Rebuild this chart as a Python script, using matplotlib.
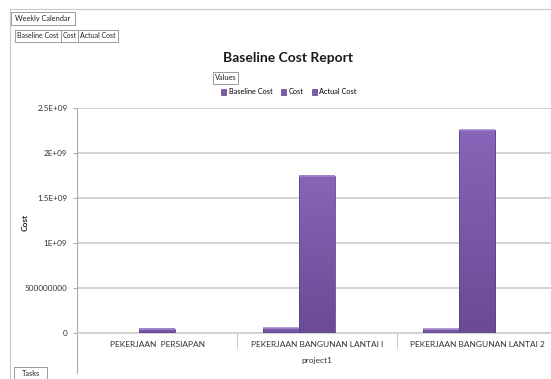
import numpy as np
import matplotlib.pyplot as plt
from matplotlib.patches import Rectangle
from matplotlib.lines import Line2D
from matplotlib.colors import LinearSegmentedColormap

plt.rcParams['font.family'] = ['Lato', 'DejaVu Sans']

# dados
tarefas = ['PEKERJAAN  PERSIAPAN', 'PEKERJAAN BANGUNAN LANTAI I', 'PEKERJAAN BANGUNAN LANTAI 2']
series = ['Baseline Cost', 'Cost', 'Actual Cost']
baseline_cost = [0, 5.5e7, 4.0e7]
cost = [5.0e7, 1.745e9, 2.255e9]
actual_cost = [0, 0, 0]
yticks = [0, 5e8, 1e9, 1.5e9, 2e9, 2.5e9]
ytick_labels = ['0', '500000000', '1E+09', '1.5E+09', '2E+09', '2.5E+09']

W, H = 551, 379
fig = plt.figure(figsize=(W / 100, H / 100), dpi=100)

def fx(x):
    return x / W

def fy(y):
    return 1 - y / H

# borda da página
fig.add_artist(Line2D([fx(10), 1], [fy(9), fy(9)], color='#c8c8c8', lw=0.8))
fig.add_artist(Line2D([fx(10), fx(10)], [fy(9), 0], color='#c8c8c8', lw=0.8))

# caixinhas de campo (x0, x1, y0, y1 em pixels)
def caixa(texto, x0, x1, y0, y1, tamanho=5.3):
    fig.add_artist(Rectangle((fx(x0), fy(y1)), fx(x1) - fx(x0), fy(y0) - fy(y1),
                             facecolor='white', edgecolor='#9a9a9a', lw=0.7))
    fig.text(fx((x0 + x1) / 2), fy((y0 + y1) / 2), texto, fontsize=tamanho,
             ha='center', va='center', color='#222222')

caixa('Weekly Calendar', 11, 75, 12, 25)
caixa('Baseline Cost', 15, 61, 30, 42, 5.0)
caixa('Cost', 61, 78, 30, 42, 5.0)
caixa('Actual Cost', 78, 118, 30, 42, 5.0)
caixa('Values', 213, 238, 72, 84)
caixa('Tasks', 14, 47, 367, 381)

fig.text(fx(288), fy(58), 'Baseline Cost Report', fontsize=10, fontweight='bold',
         ha='center', va='center', color='#1a1a1a')

ax = fig.add_axes([fx(77), fy(333), 480 / W, (333 - 108) / H])

cor = '#7a5aa6'
borda = '#5e4286'
degrade = LinearSegmentedColormap.from_list('roxo', ['#8865b8', '#6a4b94'])
largura = 0.225
x = [0.5, 1.5, 2.5]
barras = []
for i, valores in enumerate([baseline_cost, cost, actual_cost]):
    pos = [c + (i - 1) * largura for c in x]
    b = ax.bar(pos, valores, width=largura, color='none', edgecolor=borda, linewidth=0.6, zorder=4)
    barras.extend(b.patches)

# degradê vertical dentro de cada barra
grad = np.linspace(0, 1, 64).reshape(-1, 1)
for p in barras:
    if p.get_height() <= 0:
        continue
    x0, y0 = p.get_x(), p.get_y()
    x1, y1 = x0 + p.get_width(), y0 + p.get_height()
    ax.imshow(grad, cmap=degrade, aspect='auto', extent=(x0, x1, y0, y1),
              origin='upper', zorder=3, interpolation='bilinear')
    # brilho no topo
    ax.plot([x0, x1], [y1, y1], color='#a88ad0', lw=1.2, zorder=5, solid_capstyle='butt')
ax.set_xlim(0, 3)
ax.set_ylim(0, 2.5e9)

ax.set_yticks(yticks)
ax.set_yticklabels(ytick_labels, fontsize=5.9, color='#333333')
ax.grid(axis='y', color='#cccccc', lw=1.2, zorder=0)
ax.tick_params(axis='y', length=3, width=0.6, color='#999999', pad=4)

ax.set_xticks([1, 2])
ax.set_xticklabels(['', ''])
ax.tick_params(axis='x', which='major', length=11, width=0.6, color='#bbbbbb')
ax.set_xticks(x, minor=True)
ax.set_xticklabels(tarefas, minor=True, fontsize=6.0, color='#333333')
ax.tick_params(axis='x', which='minor', length=0, pad=6)

for lado in ['top', 'right']:
    ax.spines[lado].set_visible(False)
ax.spines['left'].set_color('#aaaaaa')
ax.spines['left'].set_linewidth(0.8)
ax.spines['bottom'].set_color('#cccccc')
ax.spines['bottom'].set_linewidth(1.2)
ax.plot([0, 0], [0, -40 / 225], transform=ax.transAxes, clip_on=False, color='#aaaaaa', lw=0.8)

fig.text(fx(317), fy(361), 'project1', fontsize=6, ha='center', va='center', color='#333333')
fig.text(fx(25), fy(222), 'Cost', fontsize=6, fontweight='bold', rotation=90,
         ha='center', va='center', color='#222222')

# legenda
handles = [Rectangle((0, 0), 1, 1, facecolor=cor, edgecolor=borda, lw=0.5) for _ in series]
fig.legend(handles, series, loc='center', bbox_to_anchor=(fx(289), fy(92)), ncol=3,
           frameon=False, fontsize=5.3, handlelength=0.7, handleheight=0.7,
           handletextpad=0.3, columnspacing=1.2, borderpad=0)

fig.savefig('out.png', dpi=100)
